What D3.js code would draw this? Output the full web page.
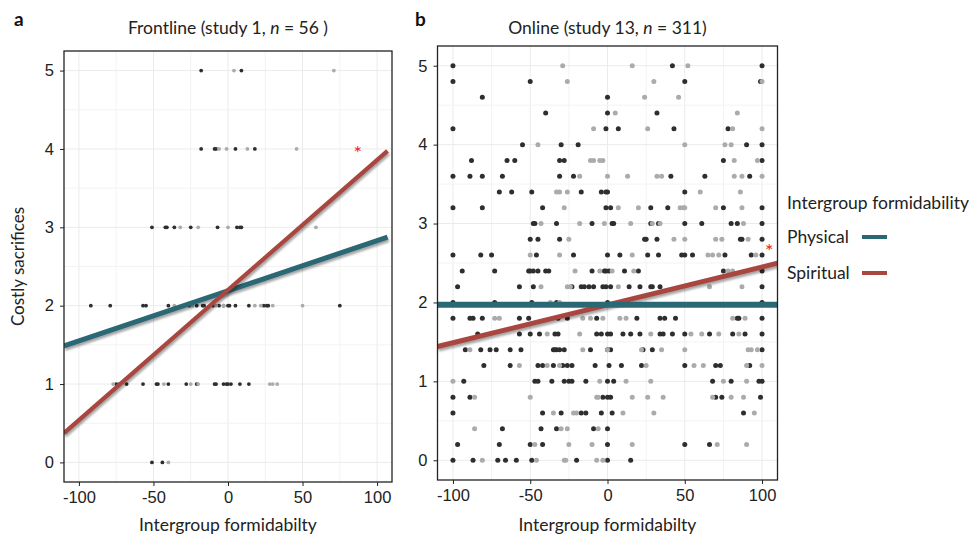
<!DOCTYPE html>
<html>
<head>
<meta charset="utf-8">
<script src="https://cdn.jsdelivr.net/npm/d3@7.9.0/dist/d3.min.js"></script>
<style>
  body { margin: 0; background: #fff; }
  svg { font-family: Lato, "Open Sans", sans-serif; }
  .tick text { font-size: 16.5px; fill: #222; }
  .tick line { stroke: #222; }
</style>
</head>
<body>
<svg id="chart" width="969" height="539"></svg>
<script>
// --- data ---
const xTicks = [-100, -50, 0, 50, 100];
const yTicks = [0, 1, 2, 3, 4, 5];
const legendLabels = ['Physical', 'Spiritual'];

// rows of [costly sacrifice, [formidability values]]
const frontlineDark = [
  [5, [-18, 9]],
  [4, [-18, -9, -8, 5, 18]],
  [3, [-51, -42, -41, -36, -25, -7, 6, 8, 9]],
  [2, [-92, -79, -57, -55, -40, -26, -21, -17, -16, -10, -6, -3, 0, 1, 5, 14, 24, 26, 27, 75]],
  [1, [-75, -73, -68, -57, -48, -47, -40, -28, -21, -9, -8, -3, -1, 0, 2, 8, 14]],
  [0, [-51, -44]]
];
const frontlineGrey = [
  [5, [4, 71]],
  [4, [-6, -1, 13, 46]],
  [3, [-32, -20, 0, 59]],
  [2, [-36, -24, -8, -3, 18, 22, 30, 50]],
  [1, [-77, -43, -25, -20, 28, 30, 33]],
  [0, [-40]]
];
const onlineDark = [
  [5.0, [-100, 42, 100]],
  [4.8, [-100, -50, 50, 99]],
  [4.6, [-81, 0]],
  [4.4, [-40, 0, 32]],
  [4.2, [-100, -1, 7, 43, 78]],
  [4.0, [-55, -30, -19, 90, 100]],
  [3.8, [-88, -65, -60, -31, -28, 75, 100]],
  [3.6, [-100, -89, -81, -68, -31, -22, 41, 63, 92]],
  [3.4, [-70, -62, -49, -17, -4, -1, 0, 50]],
  [3.2, [-100, -81, -42, -1, 2, 28, 39, 75, 100]],
  [3.0, [-48, -47, -33, -10, 3, 4, 28, 33, 50, 61, 80, 84, 100]],
  [2.8, [-50, -45, -31, 24, 25, 32, 86, 87, 100]],
  [2.6, [-100, -82, -75, -46, -22, 0, 8, 26, 33, 48, 50, 55, 76, 93, 100]],
  [2.4, [-94, -73, -51, -50, -48, -45, -40, -38, -10, -2, -1, 1, 11, 20, 75, 100]],
  [2.2, [-97, -57, -48, -23, -17, -15, -12, -9, -3, -1, 2, 14, 21, 28, 29, 34, 100]],
  [2.0, [-100, -73, -49, -33, 0, 100]],
  [1.8, [-100, -89, -87, -81, -57, -51, -32, -26, -7, 19, 34, 37, 44, 84, 85, 100]],
  [1.6, [-84, -57, -50, -44, -34, -32, -7, -4, 0, 2, 10, 15, 21, 34, 36, 42, 50, 66, 81, 89, 100]],
  [1.4, [-92, -82, -76, -72, -63, -56, -35, -34, -33, -31, -28, -11, 0, 2, 23, 29, 100]],
  [1.2, [-80, -63, -45, -42, -35, -29, -26, -23, -8, 1, 9, 22, 50, 70, 73, 92]],
  [1.0, [-93, -47, -45, -36, -28, -25, -23, -14, 0, 4, 68, 80, 98, 100]],
  [0.8, [-100, -89, -3, 0, 2, 70, 74, 99]],
  [0.6, [-100, -42, -30, -17, -14, -4, 3, 88]],
  [0.4, [-68, -43, -33, -9, 0]],
  [0.2, [-97, -70, -50, -42, 0, 50, 66]],
  [0.0, [-100, -87, -71, -66, -59, -49, -20, 0, 15]]
];
const onlineGrey = [
  [5.0, [-29, 16, 52]],
  [4.8, [-26, 30, 100]],
  [4.6, [24, 46]],
  [4.4, [5, 84]],
  [4.2, [-9, 26, 81, 100]],
  [4.0, [-45, 50, 76, 80]],
  [3.8, [-11, -9, -5, -3, 82, 97]],
  [3.6, [-18, 0, 13, 32, 35, 82, 87, 100]],
  [3.4, [-33, -31, -26, 60, 86]],
  [3.2, [-28, 7, 20, 47, 49, 50, 70, 87]],
  [3.0, [-43, -18, -2, 15, 29, 34, 88]],
  [2.8, [-25, 43, 50, 70, 74, 91]],
  [2.6, [-50, -31, 16, 65, 68, 72, 96]],
  [2.4, [-21, -5, 3, 17, 78, 81]],
  [2.2, [-43, -26, -24, 7, 66, 87]],
  [2.0, [-37, -31]],
  [1.8, [-73, -70, -16, -11, -3, 8, 12, 81, 89]],
  [1.6, [-39, -18, 28, 54, 61, 72, 85]],
  [1.4, [-89, -16, 0, 22, 35, 50, 91, 93, 97]],
  [1.2, [-57, -39, -31, 25, 56, 62, 90, 100]],
  [1.0, [-100, -5, 12, 28, 75, 90]],
  [0.8, [-86, -50, -7, -6, 16, 26, 36, 68, 80, 88]],
  [0.6, [-35, -22, -20, 10, 30, 95]],
  [0.4, [-86, -30, -26, -6]],
  [0.2, [-47, -25, -10, 16, 71, 90]],
  [0.0, [-81, -46, -28, -27, -7, -3]]
];

// fitted lines: [intercept, slope]
const frontlineFits = [[2.19, 0.0064], [2.2, 0.0166]];
const onlineFits = [[1.97, 0], [1.97, 0.0048]];
const frontlineStar = [87, 3.98];
const onlineStar = [104.7, 2.68];

const panels = [
  { letter: 'a', title: ['Frontline (study 1, ', ' = 56 )'], x0: 64, x1: 392, y0: 482, y1: 51,
    dark: frontlineDark, grey: frontlineGrey, fits: frontlineFits, star: frontlineStar,
    lineEnd: 107, r: 1.9, widths: [5, 4.2], yLabel: true },
  { letter: 'b', title: ['Online (study 13, ', ' = 311)'], x0: 437.5, x1: 777.5, y0: 480, y1: 46,
    dark: onlineDark, grey: onlineGrey, fits: onlineFits, star: onlineStar,
    lineEnd: 110, r: 2.5, widths: [6, 5], yLabel: false }
];

const colors = { dark: '#2e2e2e', grey: '#ababab', lines: ['#2b6875', '#a8463f'] };

const svg = d3.select('#chart');

const defs = svg.append('defs');
defs.append('filter').attr('id', 'shadow').attr('x', '-10%').attr('y', '-50%')
  .attr('width', '120%').attr('height', '200%')
  .append('feGaussianBlur').attr('stdDeviation', 1.2);

panels.forEach((p, pi) => {
  const x = d3.scaleLinear().domain([-110, 110]).range([p.x0, p.x1]);
  const y = d3.scaleLinear().domain([-0.25, 5.25]).range([p.y0, p.y1]);
  const g = svg.append('g');
  const clipId = 'clip' + pi;
  defs.append('clipPath').attr('id', clipId)
    .append('rect').attr('x', p.x0).attr('y', p.y1)
    .attr('width', p.x1 - p.x0).attr('height', p.y0 - p.y1);

  // grid (major + minor)
  const gx = d3.range(-100, 101, 25);
  const gy = d3.range(0, 5.01, 0.5);
  g.selectAll('.gx').data(gx).join('line')
    .attr('x1', d => x(d)).attr('x2', d => x(d)).attr('y1', p.y0).attr('y2', p.y1)
    .attr('stroke', d => d % 50 === 0 ? '#ebebeb' : '#f3f3f3').attr('stroke-width', 1);
  g.selectAll('.gy').data(gy).join('line')
    .attr('y1', d => y(d)).attr('y2', d => y(d)).attr('x1', p.x0).attr('x2', p.x1)
    .attr('stroke', d => d % 1 === 0 ? '#ebebeb' : '#f3f3f3').attr('stroke-width', 1);

  const plot = g.append('g').attr('clip-path', `url(#${clipId})`);

  const flat = rows => rows.flatMap(([v, xs]) => xs.map(d => ({ x: d, y: v })));
  plot.selectAll('.dk').data(flat(p.dark)).join('circle')
    .attr('cx', d => x(d.x)).attr('cy', d => y(d.y)).attr('r', p.r).attr('fill', colors.dark);
  plot.selectAll('.gr').data(flat(p.grey)).join('circle')
    .attr('cx', d => x(d.x)).attr('cy', d => y(d.y)).attr('r', p.r).attr('fill', colors.grey);

  // fitted lines with a soft shadow
  p.fits.forEach(([a, b], i) => {
    const ends = [-110, p.lineEnd].map(v => [x(v), y(a + b * v)]);
    plot.append('line')
      .attr('x1', ends[0][0] + 1).attr('y1', ends[0][1] + 2.5)
      .attr('x2', ends[1][0] + 1).attr('y2', ends[1][1] + 2.5)
      .attr('stroke', 'rgba(0,0,0,0.35)').attr('stroke-width', p.widths[i])
      .attr('filter', 'url(#shadow)');
    plot.append('line')
      .attr('x1', ends[0][0]).attr('y1', ends[0][1])
      .attr('x2', ends[1][0]).attr('y2', ends[1][1])
      .attr('stroke', colors.lines[i]).attr('stroke-width', p.widths[i]);
  });
  // draw physical on top in panel b like the reference
  if (pi === 1) plot.node().appendChild(plot.selectAll('line').nodes()[1]);

  g.append('text').attr('x', x(p.star[0])).attr('y', y(p.star[1]) + 9)
    .attr('text-anchor', 'middle').attr('fill', '#f02020').attr('font-size', 20).text('*');

  // frame
  g.append('rect').attr('x', p.x0).attr('y', p.y1)
    .attr('width', p.x1 - p.x0).attr('height', p.y0 - p.y1)
    .attr('fill', 'none').attr('stroke', '#222').attr('stroke-width', 1.3);

  g.append('g').attr('transform', `translate(0,${p.y0})`)
    .call(d3.axisBottom(x).tickValues(xTicks).tickSize(4).tickPadding(5)
      .tickFormat(d => d < 0 ? '-' + Math.abs(d) : d))
    .call(s => s.select('.domain').remove());
  g.append('g').attr('transform', `translate(${p.x0},0)`)
    .call(d3.axisLeft(y).tickValues(yTicks).tickSize(4).tickPadding(6).tickFormat(d3.format('d')))
    .call(s => s.select('.domain').remove());

  const cx = (p.x0 + p.x1) / 2;
  const t = g.append('text').attr('x', cx).attr('y', 34).attr('text-anchor', 'middle')
    .attr('font-size', 17.5).attr('fill', '#222');
  t.append('tspan').text(p.title[0]);
  t.append('tspan').attr('font-style', 'italic').text('n');
  t.append('tspan').text(p.title[1]);

  g.append('text').attr('x', pi === 0 ? 14 : 415).attr('y', 26)
    .attr('font-size', 19).attr('font-weight', 'bold').attr('fill', '#111').text(p.letter);

  g.append('text').attr('x', cx).attr('y', 531).attr('text-anchor', 'middle')
    .attr('font-size', 17.5).attr('fill', '#222').text('Intergroup formidabilty');

  if (p.yLabel) {
    g.append('text').attr('transform', `translate(24,${(p.y0 + p.y1) / 2}) rotate(-90)`)
      .attr('text-anchor', 'middle').attr('font-size', 17).attr('fill', '#222')
      .text('Costly sacrifices');
  }
});

// legend
const leg = svg.append('g').attr('transform', 'translate(787,0)');
leg.append('text').attr('x', 0).attr('y', 209).attr('font-size', 17.5).attr('fill', '#222')
  .text('Intergroup formidability');
legendLabels.forEach((lab, i) => {
  const yy = 237 + i * 36;
  leg.append('text').attr('x', 0).attr('y', yy + 6).attr('font-size', 17.5).attr('fill', '#222').text(lab);
  leg.append('line').attr('x1', 76).attr('x2', 101).attr('y1', yy + 2).attr('y2', yy + 2)
    .attr('stroke', 'rgba(0,0,0,0.35)').attr('stroke-width', 4).attr('filter', 'url(#shadow)');
  leg.append('line').attr('x1', 75).attr('x2', 100).attr('y1', yy).attr('y2', yy)
    .attr('stroke', colors.lines[i]).attr('stroke-width', 4);
});
</script>
</body>
</html>
